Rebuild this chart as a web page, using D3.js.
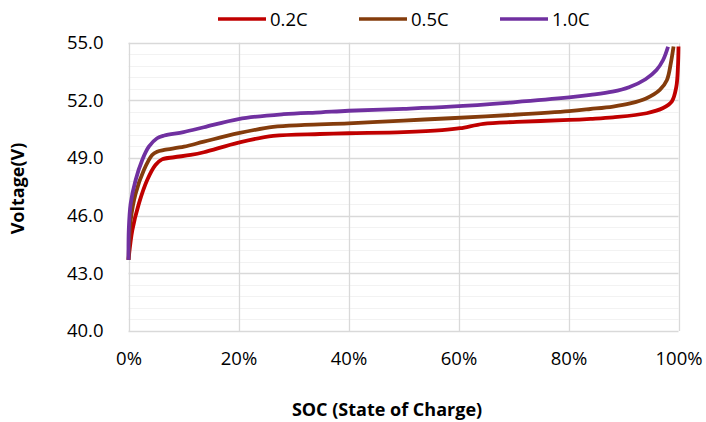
<!DOCTYPE html>
<html>
<head>
<meta charset="utf-8">
<script src="https://cdn.jsdelivr.net/npm/d3@7"></script>
<style>
  body { margin: 0; background: #fff; }
  text { font-family: "Open Sans", sans-serif; fill: #000; }
</style>
</head>
<body>
<div id="chart"></div>
<script>
// series: [SOC %, Voltage V]
var series02 = [[0, 43.7], [0.7, 45.25], [1.9, 46.64], [3.4, 47.86], [4.9, 48.64], [6.1, 48.93], [8.3, 49.04],
  [11.3, 49.16], [13.7, 49.3], [20, 49.8], [26.3, 50.15], [34.8, 50.25], [40, 50.29], [50, 50.35], [57, 50.45],
  [60.3, 50.55], [64.5, 50.78], [70.6, 50.88], [80.1, 50.98], [84, 51.04], [88.1, 51.12], [94.2, 51.33],
  [97.2, 51.6], [98.8, 51.95], [99.6, 52.7], [99.9, 53.75], [100, 54.8]];
var series05 = [[0, 43.7], [0.1, 44.4], [0.4, 45.78], [1.3, 47.16], [2.8, 48.38], [4.3, 49.16], [5.2, 49.33],
  [6.5, 49.42], [10.1, 49.59], [13.7, 49.85], [20, 50.29], [26.3, 50.62], [32, 50.72], [40, 50.8], [50, 50.95],
  [58.5, 51.07], [70, 51.25], [80.1, 51.44], [84, 51.55], [88.1, 51.68], [91.2, 51.84], [94.2, 52.11],
  [96.6, 52.54], [97.9, 53.06], [98.6, 53.93], [99.1, 54.8]];
var series10 = [[0, 43.7], [0.05, 45.25], [0.4, 46.64], [1.3, 47.86], [2.5, 48.9], [3.7, 49.59], [5.2, 50.03],
  [6.5, 50.17], [10, 50.35], [13.7, 50.6], [20, 51.03], [28.2, 51.28], [35, 51.38], [40, 51.46], [50, 51.56],
  [58.5, 51.67], [70, 51.9], [80.1, 52.15], [84, 52.28], [88, 52.45], [91, 52.68], [94, 53.1],
  [96, 53.58], [97.2, 54.1], [98.1, 54.79]];

var seriesNames = ["0.2C", "0.5C", "1.0C"];
var seriesColors = ["#C00000", "#843C0C", "#7030A0"];
var yTicks = [40, 43, 46, 49, 52, 55];
var xTicks = [0, 20, 40, 60, 80, 100];

var width = 706, height = 422;
var plot = { left: 128.5, right: 678.5, top: 42.7, bottom: 331 };

var svg = d3.select("#chart").append("svg")
  .attr("width", width)
  .attr("height", height);

var x = d3.scaleLinear().domain([0, 100]).range([plot.left, plot.right]);
var y = d3.scaleLinear().domain([40, 55]).range([plot.bottom, plot.top]);

// minor horizontal grid every 0.6 V
var minor = d3.range(40.6, 55, 0.6).filter(function(v) { return Math.abs((v - 40) % 3) > 0.01 && Math.abs((v - 40) % 3 - 3) > 0.01; });
svg.append("g").selectAll("line").data(minor).enter().append("line")
  .attr("x1", plot.left).attr("x2", plot.right)
  .attr("y1", function(d) { return Math.round(y(d)) + 0.5; })
  .attr("y2", function(d) { return Math.round(y(d)) + 0.5; })
  .attr("stroke", "#f2f2f2").attr("stroke-width", 1.2);

// major grid
svg.append("g").selectAll("line").data(yTicks).enter().append("line")
  .attr("x1", plot.left).attr("x2", plot.right)
  .attr("y1", function(d) { return Math.round(y(d)) + 0.5; })
  .attr("y2", function(d) { return Math.round(y(d)) + 0.5; })
  .attr("stroke", "#d9d9d9").attr("stroke-width", 1.3);

svg.append("g").selectAll("line").data(xTicks).enter().append("line")
  .attr("x1", function(d) { return Math.round(x(d)) + 0.5; })
  .attr("x2", function(d) { return Math.round(x(d)) + 0.5; })
  .attr("y1", plot.top).attr("y2", plot.bottom)
  .attr("stroke", "#d9d9d9").attr("stroke-width", 1.3);

// axes (labels only)
var yAxis = d3.axisLeft(y).tickValues(yTicks).tickSize(0).tickPadding(25).tickFormat(d3.format(".1f"));
var xAxis = d3.axisBottom(x).tickValues(xTicks).tickSize(0).tickPadding(21).tickFormat(function(d) { return d + "%"; });

var gy = svg.append("g").attr("transform", "translate(" + plot.left + ",0)").call(yAxis);
var gx = svg.append("g").attr("transform", "translate(0," + plot.bottom + ")").call(xAxis);
[gx, gy].forEach(function(g) {
  g.select(".domain").remove();
  g.selectAll("text").style("font-family", "Open Sans, sans-serif").style("font-size", "18.5px").attr("fill", "#000");
});

// lines
var line = d3.line()
  .x(function(d) { return x(d[0]); })
  .y(function(d) { return y(d[1]); })
  .curve(d3.curveCatmullRom.alpha(0.5));

[series02, series05, series10].forEach(function(s, i) {
  svg.append("path")
    .attr("d", line(s))
    .attr("fill", "none")
    .attr("stroke", seriesColors[i])
    .attr("stroke-width", 3.8)
    .attr("stroke-linejoin", "round");
});

// legend
var legendX = [218, 359, 500];
seriesNames.forEach(function(name, i) {
  svg.append("line")
    .attr("x1", legendX[i]).attr("x2", legendX[i] + 48)
    .attr("y1", 19).attr("y2", 19)
    .attr("stroke", seriesColors[i]).attr("stroke-width", 3.5);
  svg.append("text")
    .attr("x", legendX[i] + 52).attr("y", 25.8)
    .style("font-size", "18.5px")
    .text(name);
});

// axis titles
svg.append("text")
  .attr("transform", "translate(24,188.5) rotate(-90)")
  .attr("text-anchor", "middle")
  .style("font-size", "18px").style("font-weight", "bold")
  .text("Voltage(V)");

svg.append("text")
  .attr("x", 387).attr("y", 416)
  .attr("text-anchor", "middle")
  .style("font-size", "18px").style("font-weight", "bold")
  .text("SOC (State of Charge)");
</script>
</body>
</html>
